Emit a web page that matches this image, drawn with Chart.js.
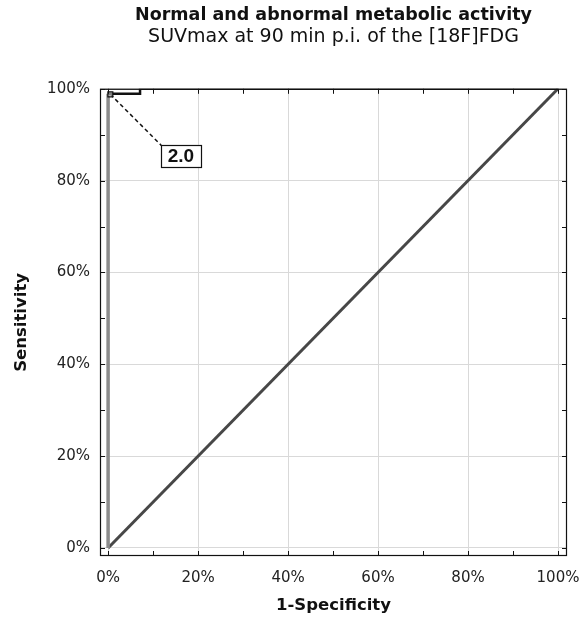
<!DOCTYPE html>
<html>
<head>
<meta charset="utf-8">
<script src="https://cdn.jsdelivr.net/npm/chart.js@4.4.1/dist/chart.umd.min.js"></script>
<style>
    html, body { margin: 0; padding: 0; background: #fff; }
    #wrap { width: 583px; height: 621px; }
</style>
</head>
<body>
<div id="wrap"><canvas id="roc" width="583" height="621"></canvas></div>
<script>
// ROC curve (1-specificity, sensitivity)
const rocFpr = [0, 0, 0.071, 0.071, 1];
const rocTpr = [0, 0.989, 0.989, 1, 1];

// reference diagonal
const diagX = [0, 1];
const diagY = [0, 1];

// cut-off marker and its label
const cutoffX = [0.005, 0.12];
const cutoffY = [0.988, 0.875];
const cutoffText = '2.0';
const cutoffLabelAt = [0.162, 0.854];

const tickValues = [0, 0.2, 0.4, 0.6, 0.8, 1.0];
const minorTicks = [0, 0.1, 0.2, 0.3, 0.4, 0.5, 0.6, 0.7, 0.8, 0.9, 1.0];

const SANS = "'DejaVu Sans', Verdana, sans-serif";
const ARIAL = "'Liberation Sans', Arial, sans-serif";

function toPoints(xs, ys) {
    return xs.map((x, i) => ({ x: x, y: ys[i] }));
}

// frame around plot area, inward minor ticks, cut-off label box
const framePlugin = {
    id: 'frame',
    afterDatasetsDraw(chart) {
        const { ctx, chartArea: a, scales } = chart;
        ctx.save();
        ctx.strokeStyle = '#111';
        ctx.lineWidth = 1.2;
        ctx.strokeRect(a.left + 0.5, a.top + 0.5, a.right - a.left - 1, a.bottom - a.top - 1);

        // small inward ticks on every side
        ctx.lineWidth = 1;
        ctx.beginPath();
        minorTicks.forEach(v => {
            const px = Math.round(scales.x.getPixelForValue(v)) + 0.5;
            const py = Math.round(scales.y.getPixelForValue(v)) + 0.5;
            ctx.moveTo(px, a.bottom); ctx.lineTo(px, a.bottom - 5);
            ctx.moveTo(px, a.top); ctx.lineTo(px, a.top + 5);
            ctx.moveTo(a.left, py); ctx.lineTo(a.left + 5, py);
            ctx.moveTo(a.right, py); ctx.lineTo(a.right - 5, py);
        });
        ctx.stroke();

        // cut-off label
        const cx = scales.x.getPixelForValue(cutoffLabelAt[0]);
        const cy = scales.y.getPixelForValue(cutoffLabelAt[1]);
        ctx.font = 'bold 19px ' + ARIAL;
        ctx.textAlign = 'center';
        ctx.textBaseline = 'middle';
        const w = 40, h = 22;
        ctx.fillStyle = '#fff';
        ctx.fillRect(cx - w / 2, cy - h / 2, w, h);
        ctx.strokeStyle = '#111';
        ctx.lineWidth = 1.2;
        ctx.strokeRect(Math.round(cx - w / 2) + 0.5, Math.round(cy - h / 2) + 0.5, w, h);
        ctx.fillStyle = '#111';
        ctx.fillText(cutoffText, cx, cy + 1);
        ctx.restore();
    }
};

new Chart(document.getElementById('roc'), {
    type: 'scatter',
    data: {
        datasets: [
            {
                label: 'ROC',
                data: toPoints(rocFpr, rocTpr),
                showLine: true,
                borderColor: '#111',
                borderWidth: 2.5,
                pointRadius: 0,
                segment: {
                    borderColor: ctx => (ctx.p0.parsed.x === 0 && ctx.p1.parsed.x === 0) ? '#8c8c8c' : '#111',
                    borderWidth: ctx => (ctx.p0.parsed.x === 0 && ctx.p1.parsed.x === 0) ? 3.5 : 2.5
                },
                order: 1
            },
            {
                label: 'Reference',
                data: toPoints(diagX, diagY),
                showLine: true,
                borderColor: '#474747',
                borderWidth: 3,
                pointRadius: 0,
                order: 3
            },
            {
                label: 'Cut-off',
                data: toPoints(cutoffX, cutoffY),
                showLine: true,
                borderColor: '#111',
                borderWidth: 1.5,
                borderDash: [4, 3],
                pointStyle: 'rect',
                pointRadius: [3.5, 0],
                pointBorderColor: '#111',
                pointBackgroundColor: 'rgba(200,200,200,0.6)',
                pointBorderWidth: 1.2,
                order: 0
            }
        ]
    },
    options: {
        responsive: false,
        animation: false,
        layout: { padding: { left: 0, right: 16, top: 0, bottom: 0 } },
        plugins: {
            legend: { display: false },
            tooltip: { enabled: false },
            title: {
                display: true,
                text: 'Normal and abnormal metabolic activity',
                fullSize: false,
                color: '#111',
                font: { family: SANS, size: 17.5, weight: 'bold', lineHeight: 1.2 },
                padding: { top: 5, bottom: 0 }
            },
            subtitle: {
                display: true,
                text: 'SUVmax at 90 min p.i. of the [18F]FDG',
                fullSize: false,
                color: '#111',
                font: { family: SANS, size: 19, lineHeight: 1.2 },
                padding: { top: 0, bottom: 40 }
            }
        },
        scales: {
            x: {
                type: 'linear',
                min: -0.018,
                max: 1.02,
                afterFit: scale => {
                    scale.height = 65;
                    scale.paddingLeft = 0;
                    scale.paddingRight = 0;
                },
                afterBuildTicks: scale => { scale.ticks = tickValues.map(v => ({ value: v })); },
                grid: { color: '#d9d9d9', lineWidth: 1, drawTicks: false },
                border: { display: false },
                ticks: {
                    padding: 13,
                    color: '#222',
                    font: { family: SANS, size: 15 },
                    maxRotation: 0,
                    callback: v => Math.round(v * 100) + '%'
                },
                title: {
                    display: true,
                    text: '1-Specificity',
                    color: '#111',
                    font: { family: SANS, size: 16.5, weight: 'bold', lineHeight: 1.2 },
                    padding: { top: 0, bottom: 5 }
                }
            },
            y: {
                type: 'linear',
                min: -0.0175,
                max: 1.0,
                afterFit: scale => {
                    scale.width = 100;
                    scale.paddingTop = 0;
                    scale.paddingBottom = 0;
                },
                afterBuildTicks: scale => { scale.ticks = tickValues.map(v => ({ value: v })); },
                grid: { color: '#d9d9d9', lineWidth: 1, drawTicks: false },
                border: { display: false },
                ticks: {
                    padding: 10,
                    color: '#222',
                    font: { family: SANS, size: 15 },
                    callback: v => Math.round(v * 100) + '%'
                },
                title: {
                    display: true,
                    text: 'Sensitivity',
                    color: '#111',
                    font: { family: SANS, size: 16.5, weight: 'bold', lineHeight: 1.2 },
                    padding: { top: 12, bottom: 0 }
                }
            }
        }
    },
    plugins: [framePlugin]
});
</script>
</body>
</html>
